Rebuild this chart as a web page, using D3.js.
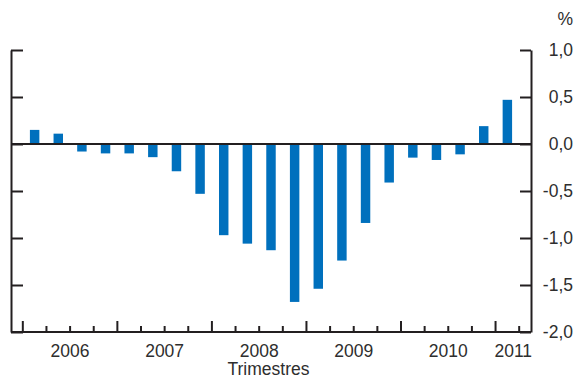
<!DOCTYPE html>
<html>
<head>
<meta charset="utf-8">
<script src="https://cdn.jsdelivr.net/npm/d3@7"></script>
<style>
  html, body { margin: 0; padding: 0; background: #fff; }
  svg { display: block; font-family: "Liberation Sans", Arial, sans-serif; }
</style>
</head>
<body>
<div id="chart"></div>
<script>
// Quarterly series, 2006 Q1 - 2011 Q1 (%)
const quarters = [
  '2006T1', '2006T2', '2006T3', '2006T4',
  '2007T1', '2007T2', '2007T3', '2007T4',
  '2008T1', '2008T2', '2008T3', '2008T4',
  '2009T1', '2009T2', '2009T3', '2009T4',
  '2010T1', '2010T2', '2010T3', '2010T4',
  '2011T1'
];
const values = [
  0.15, 0.11, -0.08, -0.10,
  -0.10, -0.14, -0.29, -0.53,
  -0.97, -1.06, -1.13, -1.68,
  -1.54, -1.24, -0.84, -0.41,
  -0.145, -0.17, -0.11, 0.19,
  0.47
];
const years = ['2006', '2007', '2008', '2009', '2010', '2011'];
const yTicks = [1.0, 0.5, 0.0, -0.5, -1.0, -1.5, -2.0];

const width = 577;
const height = 379;
const plot = { left: 11, right: 531, top: 50, bottom: 332 };
const ink = '#231f20';
const textColor = '#2e2e2e';
const barColor = '#0070bd';

const svg = d3.select('#chart')
  .append('svg')
  .attr('width', width)
  .attr('height', height);

// Scales
const x = d3.scaleBand()
  .domain(quarters)
  .range([plot.left, plot.right])
  .paddingInner(0.6)
  .paddingOuter(0.8);

const y = d3.scaleLinear()
  .domain([-2, 1])
  .range([plot.bottom, plot.top]);

const step = x.step();
const bw = x.bandwidth();
const boundary = q => x(q) + bw / 2 - step / 2;

// Bars
svg.append('g')
  .selectAll('rect')
  .data(quarters.map((q, i) => ({ q, v: values[i] })))
  .enter()
  .append('rect')
  .attr('x', d => x(d.q))
  .attr('width', bw)
  .attr('y', d => y(Math.max(0, d.v)))
  .attr('height', d => Math.abs(y(d.v) - y(0)))
  .attr('fill', barColor);

// Zero line
svg.append('line')
  .attr('x1', plot.left)
  .attr('x2', plot.right)
  .attr('y1', y(0))
  .attr('y2', y(0))
  .attr('stroke', ink)
  .attr('stroke-width', 2);

// Left axis (ticks inward, no labels)
const leftAxis = svg.append('g')
  .attr('transform', `translate(${plot.left},0)`)
  .call(d3.axisRight(y).tickValues(yTicks).tickSizeInner(12).tickSizeOuter(0).tickFormat(''));

// Right axis (ticks inward)
const rightAxis = svg.append('g')
  .attr('transform', `translate(${plot.right},0)`)
  .call(d3.axisLeft(y).tickValues(yTicks).tickSizeInner(11).tickSizeOuter(0).tickFormat(''));

[leftAxis, rightAxis].forEach(a => {
  a.selectAll('line, path').attr('stroke', ink).attr('stroke-width', 2);
});

// Y labels on the right
svg.append('g')
  .selectAll('text')
  .data(yTicks)
  .enter()
  .append('text')
  .attr('x', 573)
  .attr('y', d => y(d))
  .attr('dy', '0.36em')
  .attr('text-anchor', 'end')
  .attr('fill', textColor)
  .attr('font-size', '17.5px')
  .text(d => d3.format('.1f')(d).replace('.', ',').replace('−', '-'));

svg.append('text')
  .attr('x', 573)
  .attr('y', 25)
  .attr('text-anchor', 'end')
  .attr('fill', textColor)
  .attr('font-size', '17.5px')
  .text('%');

// Bottom axis with quarter ticks
svg.append('line')
  .attr('x1', plot.left)
  .attr('x2', plot.right)
  .attr('y1', plot.bottom)
  .attr('y2', plot.bottom)
  .attr('stroke', ink)
  .attr('stroke-width', 2);

const boundaries = quarters.map((q, i) => ({ pos: boundary(q), major: i % 4 === 0 }));
boundaries.push({ pos: boundary(quarters[quarters.length - 1]) + step, major: false });

svg.append('g')
  .selectAll('line')
  .data(boundaries)
  .enter()
  .append('line')
  .attr('x1', d => d.pos)
  .attr('x2', d => d.pos)
  .attr('y1', plot.bottom)
  .attr('y2', d => plot.bottom - (d.major ? 11 : 6))
  .attr('stroke', ink)
  .attr('stroke-width', 2);

// Year labels centred over their quarters
svg.append('g')
  .selectAll('text')
  .data(years)
  .enter()
  .append('text')
  .attr('x', (yr, i) => {
    const qs = quarters.filter(q => q.startsWith(yr));
    const start = boundary(qs[0]);
    const end = i === years.length - 1 ? plot.right : boundary(qs[qs.length - 1]) + step;
    return (start + end) / 2;
  })
  .attr('y', 356.5)
  .attr('text-anchor', 'middle')
  .attr('fill', textColor)
  .attr('font-size', '17.5px')
  .text(d => d);

svg.append('text')
  .attr('x', 268.5)
  .attr('y', 375)
  .attr('text-anchor', 'middle')
  .attr('fill', textColor)
  .attr('font-size', '17.5px')
  .text('Trimestres');
</script>
</body>
</html>
